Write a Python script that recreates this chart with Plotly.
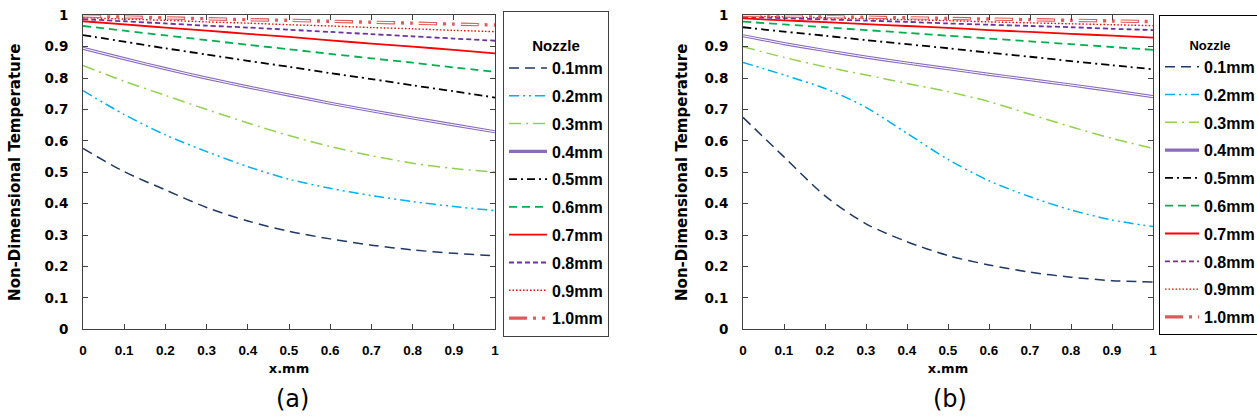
import plotly.graph_objects as go

# ---------------- data ----------------
X = [0.0, 0.1, 0.2, 0.3, 0.4, 0.5, 0.6, 0.7, 0.8, 0.9, 1.0]
tick_vals = [0, 0.1, 0.2, 0.3, 0.4, 0.5, 0.6, 0.7, 0.8, 0.9, 1]
tick_text = ["0", "0.1", "0.2", "0.3", "0.4", "0.5", "0.6", "0.7", "0.8", "0.9", "1"]
nozzles = ["0.1mm", "0.2mm", "0.3mm", "0.4mm", "0.5mm", "0.6mm", "0.7mm", "0.8mm", "0.9mm", "1.0mm"]

# panel (a)
a01 = [0.576, 0.502, 0.444, 0.388, 0.345, 0.312, 0.288, 0.268, 0.253, 0.242, 0.234]
a02 = [0.760, 0.684, 0.619, 0.566, 0.518, 0.478, 0.449, 0.426, 0.407, 0.391, 0.378]
a03 = [0.840, 0.790, 0.745, 0.700, 0.657, 0.617, 0.582, 0.553, 0.529, 0.512, 0.501]
a04 = [0.895, 0.862, 0.830, 0.800, 0.772, 0.746, 0.720, 0.696, 0.673, 0.651, 0.629]
a05 = [0.937, 0.916, 0.895, 0.875, 0.855, 0.836, 0.816, 0.797, 0.777, 0.758, 0.738]
a06 = [0.966, 0.951, 0.936, 0.921, 0.906, 0.892, 0.877, 0.863, 0.849, 0.834, 0.820]
a07 = [0.981, 0.971, 0.961, 0.951, 0.941, 0.931, 0.920, 0.910, 0.900, 0.890, 0.879]
a08 = [0.988, 0.981, 0.974, 0.967, 0.961, 0.954, 0.947, 0.940, 0.933, 0.926, 0.919]
a09 = [0.993, 0.988, 0.984, 0.979, 0.975, 0.970, 0.966, 0.961, 0.957, 0.952, 0.948]
a10 = [0.998, 0.995, 0.992, 0.989, 0.986, 0.984, 0.981, 0.978, 0.975, 0.972, 0.969]

# panel (b)
b01 = [0.675, 0.549, 0.425, 0.336, 0.279, 0.235, 0.205, 0.182, 0.166, 0.155, 0.151]
b02 = [0.850, 0.810, 0.767, 0.707, 0.624, 0.541, 0.473, 0.422, 0.380, 0.348, 0.327]
b03 = [0.900, 0.866, 0.836, 0.810, 0.783, 0.757, 0.725, 0.685, 0.645, 0.608, 0.576]
b04 = [0.935, 0.910, 0.888, 0.867, 0.848, 0.830, 0.812, 0.795, 0.778, 0.760, 0.741]
b05 = [0.962, 0.948, 0.935, 0.921, 0.908, 0.895, 0.881, 0.868, 0.854, 0.841, 0.828]
b06 = [0.980, 0.971, 0.962, 0.953, 0.944, 0.935, 0.926, 0.917, 0.908, 0.899, 0.890]
b07 = [0.990, 0.984, 0.978, 0.972, 0.966, 0.960, 0.953, 0.947, 0.941, 0.935, 0.929]
b08 = [0.995, 0.991, 0.987, 0.983, 0.979, 0.974, 0.970, 0.966, 0.962, 0.957, 0.953]
b09 = [0.998, 0.995, 0.992, 0.989, 0.986, 0.983, 0.979, 0.976, 0.973, 0.970, 0.967]
b10 = [1.000, 0.998, 0.996, 0.994, 0.992, 0.990, 0.988, 0.986, 0.984, 0.982, 0.980]

series_a = [a01, a02, a03, a04, a05, a06, a07, a08, a09, a10]
series_b = [b01, b02, b03, b04, b05, b06, b07, b08, b09, b10]

# ---------------- styles ----------------
styles = [
    dict(color="#1F3864", width=1.5, dash="10px,6px"),
    dict(color="#00B0F0", width=1.5, dash="10px,4px,2px,4px,2px,4px"),
    dict(color="#92D050", width=1.5, dash="12px,5px,2px,5px"),
    dict(color="#8A6BBE", width=3.2, dash="solid"),
    dict(color="#000000", width=1.8, dash="8px,4px,2px,4px"),
    dict(color="#00B050", width=1.8, dash="8px,5px"),
    dict(color="#FF0000", width=1.8, dash="solid"),
    dict(color="#7030A0", width=1.8, dash="5px,3px"),
    dict(color="#FF0000", width=1.4, dash="1.5px,2px"),
    dict(color="#E05A5A", width=3.4, dash="18px,6px,3px,6px,3px,6px"),
]
overlay = {3: dict(color="#FFFFFF", width=1.0, dash="solid"),
           9: dict(color="#FFFFFF", width=1.2, dash="17px,25px")}

FONT = "Liberation Sans, Arial, sans-serif"
WIDE = "DejaVu Sans, sans-serif"
fig = go.Figure()

for panel, (series, xa, ya, lg) in enumerate([(series_a, "x", "y", "legend"),
                                               (series_b, "x2", "y2", "legend2")]):
    for i, (name, ys) in enumerate(zip(nozzles, series)):
        fig.add_trace(go.Scatter(x=X, y=ys, mode="lines", name=name,
                                 line=dict(styles[i], shape="spline", smoothing=0.8),
                                 xaxis=xa, yaxis=ya, legend=lg,
                                 legendgroup=f"{panel}-{i}"))
        if i in overlay:
            fig.add_trace(go.Scatter(x=X, y=ys, mode="lines", name=name,
                                     line=dict(overlay[i], shape="spline", smoothing=0.8),
                                     xaxis=xa, yaxis=ya, legend=lg,
                                     legendgroup=f"{panel}-{i}", showlegend=False,
                                     hoverinfo="skip"))

W, H = 1257, 419
axis_common = dict(range=[0, 1], tickvals=tick_vals, ticktext=tick_text,
                   ticks="inside", ticklen=5, tickcolor="#404040",
                   showline=True, linecolor="#404040", linewidth=1, mirror="ticks",
                   showgrid=False, zeroline=False)
xfont = dict(family=FONT, size=13.5, color="#000000", weight="bold")
yfont = dict(family=WIDE, size=13.5, color="#000000", weight="bold")
xtitle = dict(text="x.mm", standoff=7,
              font=dict(family=WIDE, size=13, color="#000000", weight="bold"))
ytitle_font = dict(family=WIDE, size=15, color="#000000", weight="bold")

ydom = [(419 - 329.3) / H, (419 - 15.3) / H]

legend_common = dict(bgcolor="white", borderwidth=1, xanchor="left", yanchor="top",
                     traceorder="grouped", tracegroupgap=4,
                     font=dict(family=FONT, size=16, color="#000000", weight="bold"))

fig.update_layout(
    width=W, height=H,
    margin=dict(l=0, r=0, t=0, b=0, autoexpand=False),
    paper_bgcolor="white", plot_bgcolor="white",
    xaxis=dict(axis_common, domain=[83 / W, 495 / W], anchor="y", ticklabelstandoff=8,
               tickfont=xfont, title=xtitle),
    yaxis=dict(axis_common, domain=ydom, anchor="x", ticklabelstandoff=11,
               tickfont=yfont,
               title=dict(text="Non-Dimensional Temperature", standoff=20, font=ytitle_font)),
    xaxis2=dict(axis_common, domain=[743 / W, 1153 / W], anchor="y2", ticklabelstandoff=8,
                tickfont=xfont, title=xtitle),
    yaxis2=dict(axis_common, domain=ydom, anchor="x2", ticklabelstandoff=11,
                tickfont=yfont,
                title=dict(text="Non-Dimensional Temperature", standoff=13, font=ytitle_font)),
    legend=dict(legend_common, x=503 / W, y=(419 - 11) / H, bordercolor="#404040",
                itemwidth=38,
                title=dict(text="<br>Nozzle", side="top center",
                           font=dict(family=FONT, size=15, color="#000000", weight="bold"))),
    legend2=dict(legend_common, x=1159 / W, y=(419 - 15) / H, bordercolor="#000000",
                 itemwidth=34,
                 title=dict(text="<br>Nozzle", side="top center",
                            font=dict(family=FONT, size=13, color="#000000", weight="bold"))),
    annotations=[
        dict(text="(a)", x=292.7 / W, y=(419 - 399) / H, xref="paper", yref="paper",
             showarrow=False, xanchor="center", yanchor="middle",
             font=dict(family=WIDE, size=24, color="#000000")),
        dict(text="(b)", x=950 / W, y=(419 - 399) / H, xref="paper", yref="paper",
             showarrow=False, xanchor="center", yanchor="middle",
             font=dict(family=WIDE, size=24, color="#000000")),
    ],
)

fig.write_html("out.html")
